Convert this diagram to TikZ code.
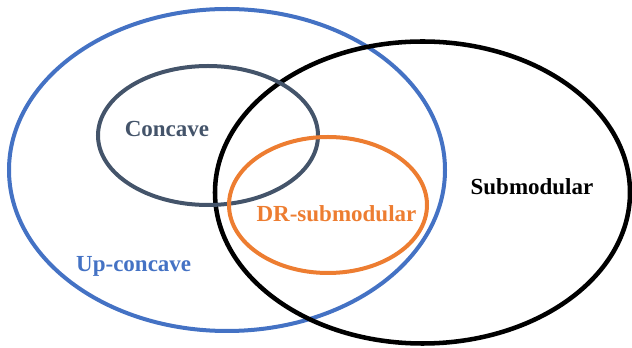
\documentclass[tikz,border=0pt]{standalone}
\usepackage{fontspec}
\setmainfont{Liberation Serif}
\definecolor{upblue}{HTML}{4472C4}
\definecolor{droran}{HTML}{ED7D31}
\definecolor{cvslate}{HTML}{44546A}
\newcommand{\setlabel}[4]{\node[lbl, text=#4] (#1) at (#2) {#3};}

\begin{document}
\begin{tikzpicture}
    [x=0.75pt, y=-0.75pt,
    set/.style={line width=3pt},
    lbl/.style={anchor=base, inner sep=0pt, font=\fontsize{17.25}{20}\selectfont\bfseries},
    ]
    \useasboundingbox (0,0) rectangle (632,348);
    % the four classes
    \draw[set, upblue] (227,170) ellipse [x radius=218, y radius=161];
    \draw[set, black, line width=3.4pt] (422.5,192.5) ellipse [x radius=207.5, y radius=151];
    \draw[set, cvslate] (208,135.5) ellipse [x radius=110, y radius=69.5];
    \draw[set, droran] (328,205) ellipse [x radius=99, y radius=68];
    % labels
    \setlabel{concave}{167,137}{Concave}{cvslate}
    \setlabel{drsub}{336.5,221.5}{DR-submodular}{droran}
    \setlabel{submod}{532,195}{Submodular}{black}
    \setlabel{upconc}{133.7,271.5}{Up-concave}{upblue}
\end{tikzpicture}
\end{document}
